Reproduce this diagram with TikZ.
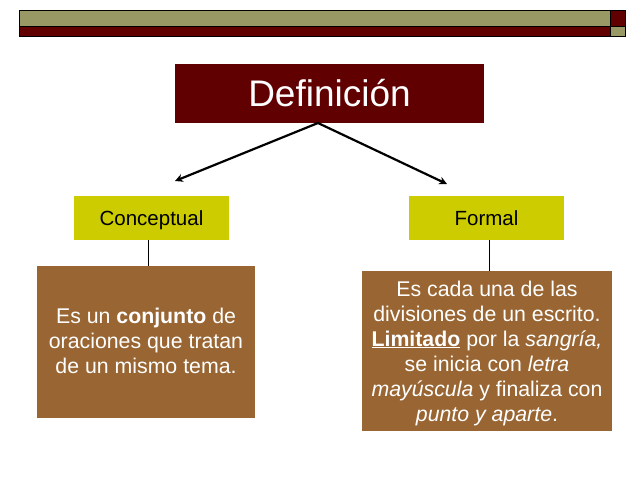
\documentclass[tikz,border=0pt]{standalone}
\usepackage{fontspec}
\setmainfont{Liberation Sans}
\usetikzlibrary{arrows.meta}
\definecolor{maroon}{HTML}{600000}
\definecolor{olive}{HTML}{999966}
\definecolor{lime}{HTML}{CCCC00}
\definecolor{brownbox}{HTML}{996633}
\begin{document}
\begin{tikzpicture}[x=1pt,y=-1pt,
  headbox/.style={fill=lime, draw=none, inner sep=0pt, text height=18pt, text depth=4pt,
    font=\fontsize{20.5}{24}\selectfont},
  textbox/.style={fill=brownbox, draw=none, inner sep=0pt},
  bodytext/.style={text=white, align=center, inner sep=0pt},
  conn/.style={line width=0.8pt},
  arr/.style={line width=2.2pt, -{Stealth[length=8pt,width=8pt]}}]
\useasboundingbox (0,0) rectangle (638,479);
\fill[white] (0,0) rectangle (638,479);
% top bar
\fill[olive] (19,10) rectangle (610,26);
\fill[maroon] (19,26) rectangle (610,36);
\fill[maroon] (610,10) rectangle (625,26);
\fill[olive] (610,26) rectangle (625,36);
\draw[line width=0.9pt] (19,10) rectangle (625,36);
\draw[line width=0.6pt] (19,26) -- (625,26) (610,10) -- (610,36);
% title
\node[fill=maroon, inner sep=0pt, minimum width=309pt, minimum height=59pt, text=white,
  font=\fontsize{37}{40}\selectfont] (def) at (329.5,93.5) {Definición};
\coordinate (left) at (175,181);
\coordinate (right) at (447,184);
\coordinate (top) at (318,123);
\draw[arr] (top) -- (left);
\draw[arr] (top) -- (right);
% heads
\node[headbox, minimum width=155pt, minimum height=44pt] (conc) at (151.5,218) {Conceptual};
\node[headbox, minimum width=155pt, minimum height=44pt] (form) at (486.5,218) {Formal};
% text boxes
\node[textbox, minimum width=218pt, minimum height=152pt] (ct) at (146,342) {};
\node[bodytext, font=\fontsize{21.3}{25}\selectfont] (ctt) at (146,341)
  {Es un \textbf{conjunto} de\\oraciones que tratan\\de un mismo tema.};
\node[textbox, minimum width=250pt, minimum height=160pt] (ft) at (487,351) {};
\node[bodytext, font=\fontsize{21.3}{25}\selectfont] (ftt) at (487,353)
  {Es cada una de las\\divisiones de un escrito.\\\underline{\textbf{Limitado}} por la \textit{sangría,}\\se inicia con \textit{letra}\\\textit{mayúscula} y finaliza con\\\textit{punto y aparte}.};
\coordinate (c1) at (148,240);
\coordinate (c2) at (148,266);
\coordinate (f1) at (489,240);
\coordinate (f2) at (489,271);
\draw[conn] (c1) -- (c2);
\draw[conn] (f1) -- (f2);
\end{tikzpicture}
\end{document}
